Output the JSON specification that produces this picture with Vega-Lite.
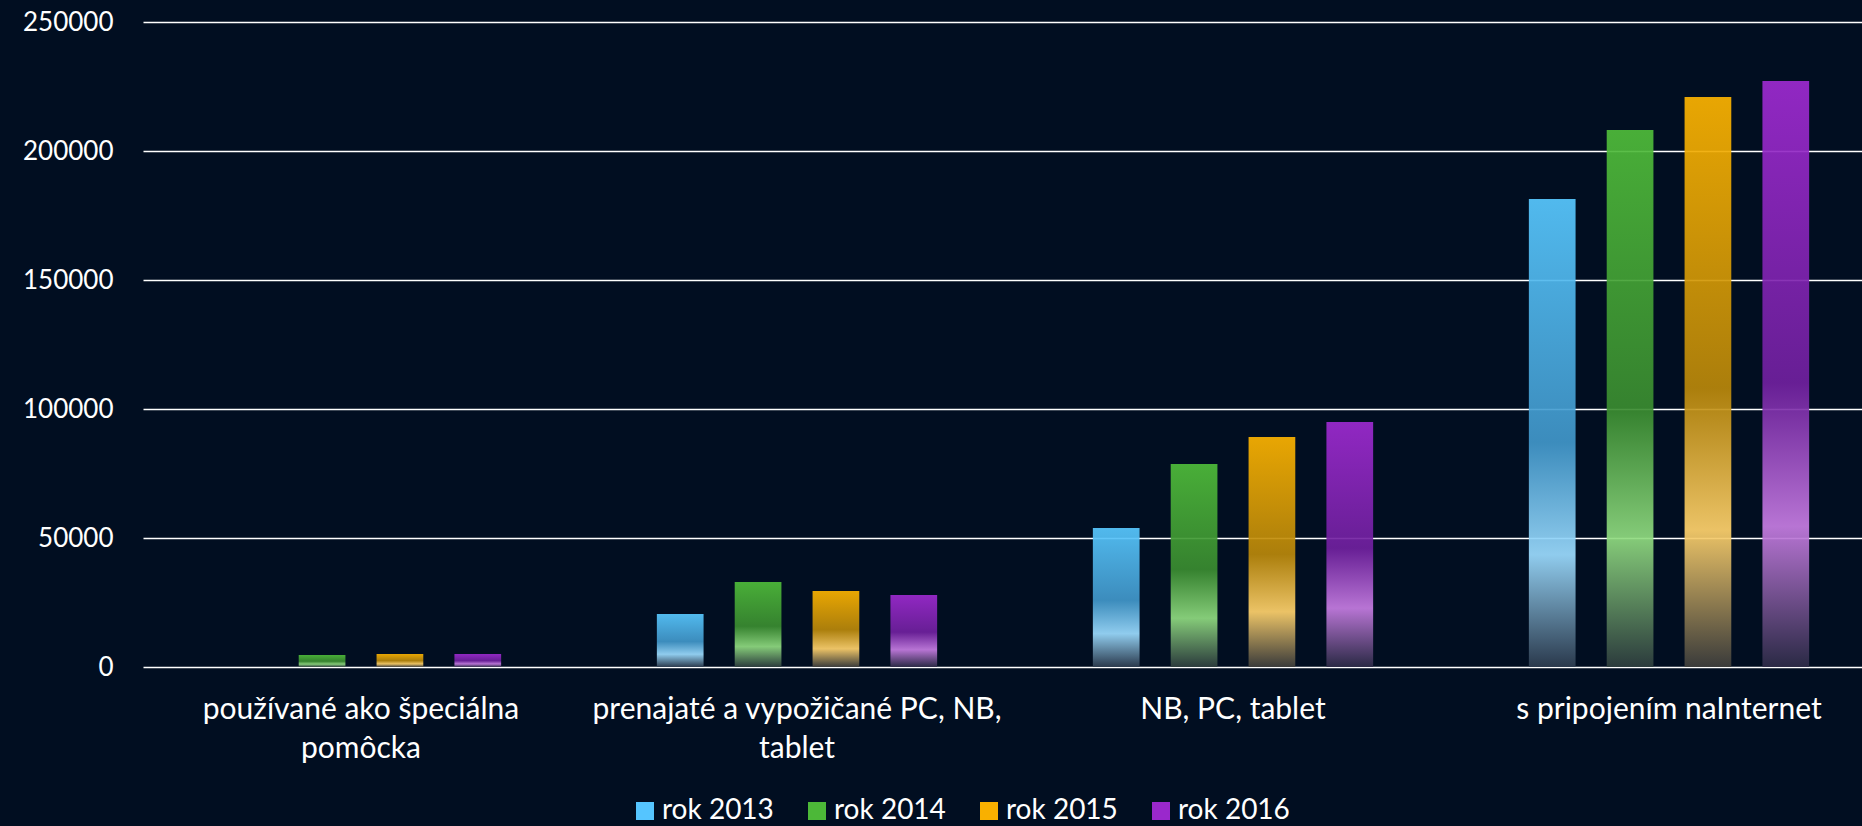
{
  "$schema": "https://vega.github.io/schema/vega-lite/v6.json",
  "width": 1719,
  "height": 645,
  "autosize": {"type": "none"},
  "padding": {"left": 143, "top": 22, "right": 0, "bottom": 159},
  "background": "#010E21",
  "config": {"view": {"stroke": null}, "font": "Lato"},
  "data": {
    "values": [
      {"kategoria": "používané ako špeciálna pomôcka", "rok": "rok 2013", "pocet": 0},
      {"kategoria": "používané ako špeciálna pomôcka", "rok": "rok 2014", "pocet": 4650},
      {"kategoria": "používané ako špeciálna pomôcka", "rok": "rok 2015", "pocet": 5040},
      {"kategoria": "používané ako špeciálna pomôcka", "rok": "rok 2016", "pocet": 5040},
      {"kategoria": "prenajaté a vypožičané PC, NB, tablet", "rok": "rok 2013", "pocet": 20540},
      {"kategoria": "prenajaté a vypožičané PC, NB, tablet", "rok": "rok 2014", "pocet": 32950},
      {"kategoria": "prenajaté a vypožičané PC, NB, tablet", "rok": "rok 2015", "pocet": 29460},
      {"kategoria": "prenajaté a vypožičané PC, NB, tablet", "rok": "rok 2016", "pocet": 27900},
      {"kategoria": "NB, PC, tablet", "rok": "rok 2013", "pocet": 53880},
      {"kategoria": "NB, PC, tablet", "rok": "rok 2014", "pocet": 78700},
      {"kategoria": "NB, PC, tablet", "rok": "rok 2015", "pocet": 89150},
      {"kategoria": "NB, PC, tablet", "rok": "rok 2016", "pocet": 94960},
      {"kategoria": "s pripojením naInternet", "rok": "rok 2013", "pocet": 181400},
      {"kategoria": "s pripojením naInternet", "rok": "rok 2014", "pocet": 208150},
      {"kategoria": "s pripojením naInternet", "rok": "rok 2015", "pocet": 220900},
      {"kategoria": "s pripojením naInternet", "rok": "rok 2016", "pocet": 227100}
    ]
  },
  "encoding": {
    "x": {
      "field": "kategoria",
      "type": "nominal",
      "sort": ["používané ako špeciálna pomôcka", "prenajaté a vypožičané PC, NB, tablet", "NB, PC, tablet", "s pripojením naInternet"],
      "scale": {"range": [0, 1744], "paddingInner": 0, "paddingOuter": 0},
      "axis": {
        "title": null,
        "labelAngle": 0,
        "labelColor": "#FFFFFF",
        "labelFontSize": 30,
        "labelLineHeight": 39,
        "labelPadding": 27,
        "labelLimit": 600,
        "ticks": false,
        "domain": false,
        "labelExpr": "datum.value == 'používané ako špeciálna pomôcka' ? ['používané ako špeciálna', 'pomôcka'] : datum.value == 'prenajaté a vypožičané PC, NB, tablet' ? ['prenajaté a vypožičané PC, NB,', 'tablet'] : datum.value"
      }
    },
    "xOffset": {
      "field": "rok",
      "type": "nominal",
      "sort": ["rok 2013", "rok 2014", "rok 2015", "rok 2016"],
      "scale": {"paddingInner": 0.4, "paddingOuter": 1.03}
    },
    "y": {
      "field": "pocet",
      "type": "quantitative",
      "scale": {"domain": [0, 250000], "nice": false},
      "axis": {
        "title": null,
        "values": [0, 50000, 100000, 150000, 200000, 250000],
        "format": "d",
        "labelColor": "#FFFFFF",
        "labelFontSize": 26,
        "labelPadding": 30,
        "ticks": false,
        "domain": false,
        "grid": true,
        "gridColor": "#FFFFFF",
        "gridWidth": 1.5,
        "gridOpacity": 1
      }
    }
  },
  "layer": [
    {
      "mark": {
        "type": "bar",
        "fillOpacity": 0.92,
        "fill": {"expr": "datum.rok == 'rok 2013' ? {gradient:'linear',x1:0,y1:0,x2:0,y2:1,stops:[{offset:0,color:'#58C8FF'},{offset:0.52,color:'#4197CA'},{offset:0.76,color:'#9CDCFF'},{offset:1,color:'#2E3D50'}]} : datum.rok == 'rok 2014' ? {gradient:'linear',x1:0,y1:0,x2:0,y2:1,stops:[{offset:0,color:'#4FBC3A'},{offset:0.52,color:'#3A8C30'},{offset:0.76,color:'#90DB80'},{offset:1,color:'#2F3F3F'}]} : datum.rok == 'rok 2015' ? {gradient:'linear',x1:0,y1:0,x2:0,y2:1,stops:[{offset:0,color:'#FCB300'},{offset:0.51,color:'#BA880A'},{offset:0.76,color:'#FFD26C'},{offset:1,color:'#3F3F3D'}]} : {gradient:'linear',x1:0,y1:0,x2:0,y2:1,stops:[{offset:0,color:'#9D2AD0'},{offset:0.515,color:'#70209F'},{offset:0.76,color:'#C77DE3'},{offset:1,color:'#2E2C48'}]}"}
      }
    },
    {
      "mark": {"type": "bar", "opacity": 0},
      "encoding": {
        "color": {
          "field": "rok",
          "type": "nominal",
          "scale": {
            "domain": ["rok 2013", "rok 2014", "rok 2015", "rok 2016"],
            "range": ["#55C5FF", "#4CB838", "#F9B000", "#9A28CC"]
          },
          "legend": {
            "orient": "none",
            "legendX": 488,
            "legendY": 775,
            "direction": "horizontal",
            "title": null,
            "labelColor": "#FFFFFF",
            "labelFontSize": 28,
            "symbolType": "square",
            "symbolSize": 324,
            "symbolStrokeWidth": 0,
            "symbolOpacity": 1,
            "columnPadding": 29,
            "labelOffset": 3,
            "encode": {
              "symbols": {
                "update": {
                  "opacity": {"value": 1},
                  "fill": {"value": {"expr": "datum.value == 'rok 2013' ? {gradient:'linear',x1:0,y1:0,x2:0,y2:1,stops:[{offset:0,color:'#55C5FF'},{offset:0.52,color:'#4195C6'},{offset:0.76,color:'#99DAFF'},{offset:1,color:'#2E3D50'}]} : datum.value == 'rok 2014' ? {gradient:'linear',x1:0,y1:0,x2:0,y2:1,stops:[{offset:0,color:'#4CB838'},{offset:0.52,color:'#3A8A30'},{offset:0.76,color:'#8ED87E'},{offset:1,color:'#2F3F3F'}]} : datum.value == 'rok 2015' ? {gradient:'linear',x1:0,y1:0,x2:0,y2:1,stops:[{offset:0,color:'#F9B000'},{offset:0.51,color:'#B8860A'},{offset:0.76,color:'#FDD06A'},{offset:1,color:'#3F3F3D'}]} : {gradient:'linear',x1:0,y1:0,x2:0,y2:1,stops:[{offset:0,color:'#9A28CC'},{offset:0.515,color:'#6E1F9C'},{offset:0.76,color:'#C47BE0'},{offset:1,color:'#2E2C48'}]}"}}
                }
              }
            }
          }
        }
      }
    }
  ]
}
